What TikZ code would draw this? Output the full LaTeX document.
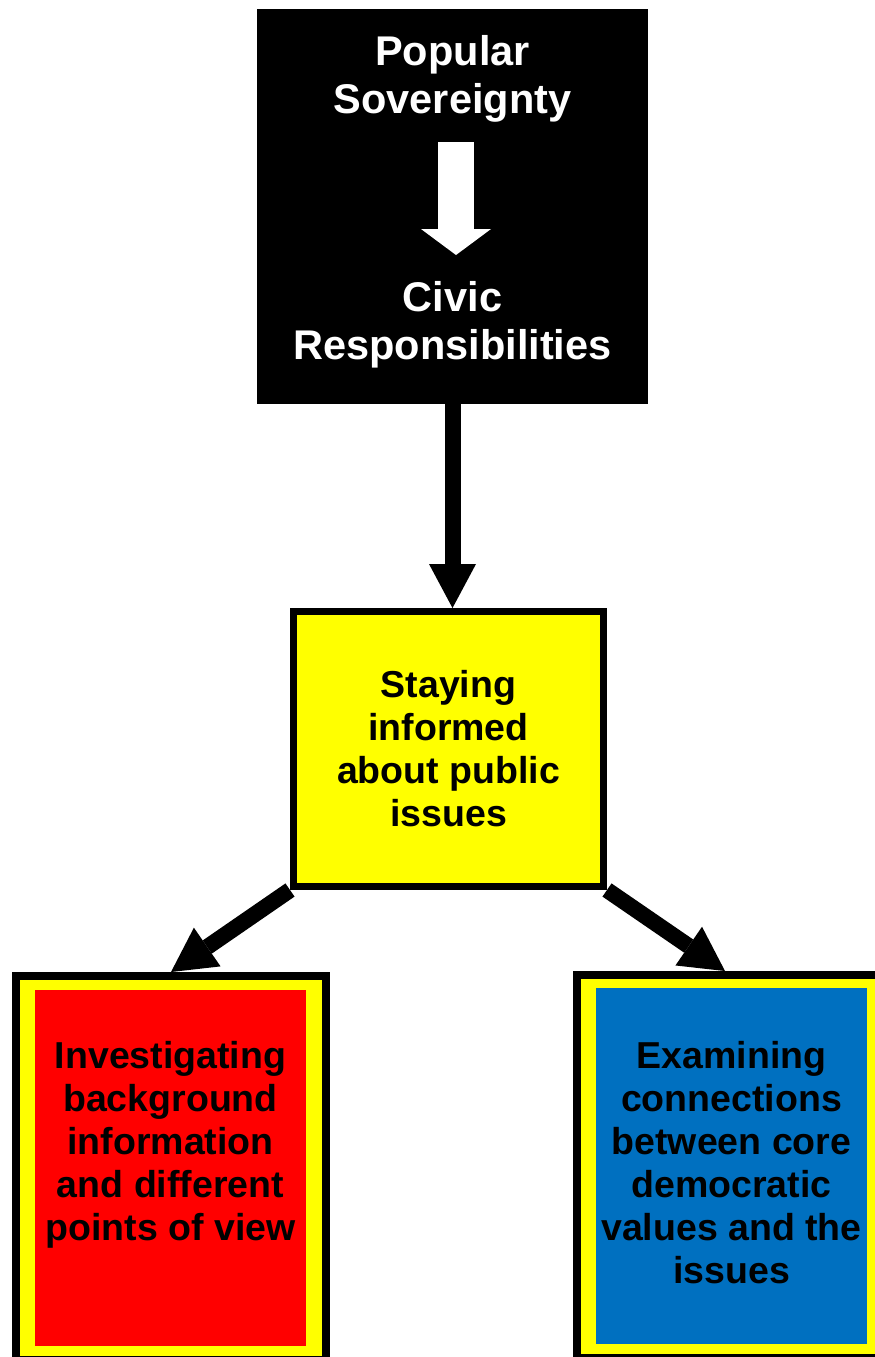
\documentclass[tikz,border=0pt]{standalone}
\usepackage{fontspec}
\setmainfont{Liberation Sans}
\usetikzlibrary{arrows.meta}
\definecolor{boxblue}{RGB}{0,112,192}
\definecolor{boxyellow}{RGB}{255,255,0}
\definecolor{boxred}{RGB}{255,0,0}
\begin{document}
\begin{tikzpicture}[x=1pt,y=-1pt,
  bigtxt/.style={text=white, font=\bfseries\fontsize{41.5}{48}\selectfont, align=center, inner sep=0pt},
  txt/.style={text=black, font=\bfseries\fontsize{37.5}{43}\selectfont, align=center, inner sep=0pt},
  outerbox/.style={draw=black, fill=boxyellow, line width=8pt, minimum width=310pt, inner sep=0pt},
  innerbox/.style={minimum width=271pt, minimum height=356pt, inner sep=0pt},
  conn/.style={line width=16pt, -{Triangle[length=44pt,width=47pt,line width=0pt]}},
]
\useasboundingbox (0,0) rectangle (875,1357);
\clip (0,0) rectangle (875,1357);
\node[fill=black, minimum width=391pt, minimum height=395pt, inner sep=0pt] (blk) at (452.5,206.5) {};
\node[bigtxt] (pop) at (452.5,78.5) {Popular\\Sovereignty};
\node[bigtxt] (civ) at (452.5,325) {Civic\\Responsibilities};
\coordinate (wa1) at (456,142);
\coordinate (wa2) at (456,255);
\draw[white, line width=36pt, -{Triangle[length=26pt,width=70pt,line width=0pt]}] (wa1) -- (wa2);
\node[draw=black, fill=boxyellow, line width=7pt, minimum width=310pt, minimum height=275pt, txt] (yel) at (448.5,749) {Staying\\informed\\about public\\issues};
\node[outerbox, minimum height=384pt] (outL) at (171,1168) {};
\node[innerbox, fill=boxred] (inL) at (170.5,1168) {};
\node[txt, anchor=north] (tL) at (170.5,1041) {Investigating\\background\\information\\and different\\points of view};
\node[outerbox, minimum height=383pt] (outR) at (732,1166.5) {};
\node[innerbox, fill=boxblue] (inR) at (731.5,1166) {};
\node[txt, anchor=north] (tR) at (731.5,1041) {Examining\\connections\\between core\\democratic\\values and the\\issues};
\draw[conn] (blk.south) -- (blk.south |- yel.north);
\draw[conn] (yel.south west) -- (outL.north);
\draw[conn] (yel.south east) -- ([xshift=-7pt]outR.north);
\end{tikzpicture}
\end{document}
